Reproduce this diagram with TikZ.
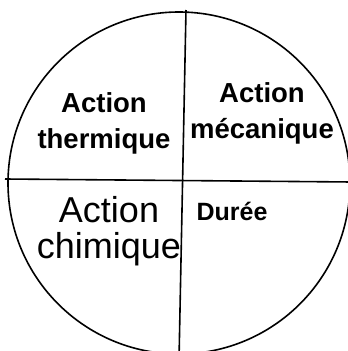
\documentclass[tikz,border=0pt]{standalone}
\usepackage{fontspec}
\setmainfont{Liberation Sans}
\begin{document}
\begin{tikzpicture}[x=1pt,y=-1pt,
    trait/.style={line width=1.6pt},
    etiq/.style={align=center,inner sep=0pt,anchor=base},
    gras/.style={etiq,font=\bfseries\fontsize{27.5}{36}\selectfont}]
  \useasboundingbox (0,0) rectangle (348,351);
  \clip (0,0) rectangle (348,351);

  % le cercle et les deux axes
  \draw[trait] (179,183) circle (171pt);
  \coordinate (haut) at (186,10);
  \coordinate (bas) at (179,360);
  \coordinate (gauche) at (5,179);
  \coordinate (droite) at (352,182);
  \draw[trait] (haut) -- (bas);
  \draw[trait] (gauche) -- (droite);

  % les quatre secteurs
  \node[gras] (thermique) at (104,148) {Action\\thermique};
  \node[gras] (mecanique) at (262,138) {Action\\mécanique};
  \node[etiq,font=\fontsize{36}{36}\selectfont] (chimique) at (109,258) {Action\\chimique};
  \node[etiq,font=\bfseries\fontsize{25}{30}\selectfont] (duree) at (232,220) {Durée};
\end{tikzpicture}
\end{document}
